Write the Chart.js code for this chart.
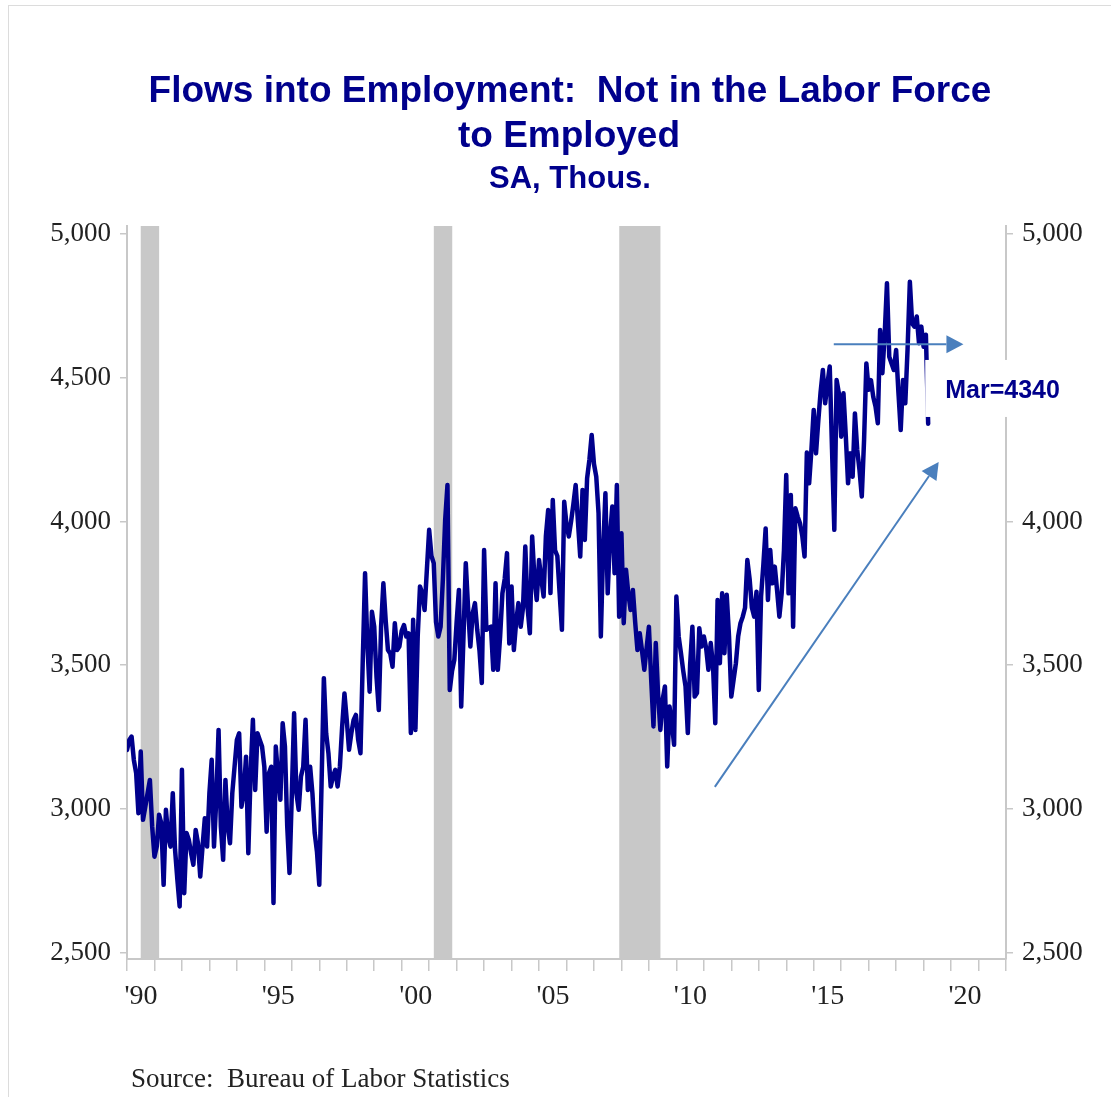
<!DOCTYPE html>
<html>
<head>
<meta charset="utf-8">
<title>Flows into Employment: Not in the Labor Force to Employed</title>
<script src="https://cdn.jsdelivr.net/npm/chart.js"></script>
<style>
  html, body { margin: 0; padding: 0; background: #fff; }
  #wrap { position: relative; width: 1111px; height: 1097px; overflow: hidden; }
  #frame { position: absolute; left: 8px; top: 5px; width: 1200px; height: 1200px; border: 1px solid #dcdcdc; }
  canvas { position: absolute; left: 0; top: 0; }
</style>
</head>
<body>
<div id="wrap"><div id="frame"></div><canvas id="myChart" width="1111" height="1097"></canvas></div>
<script>
// monthly, SA, thousands -- Jan 1990 .. Mar 2019
const firstYear = 1990;
const flows = [
  3205, 3240, 3252, 3170, 3125, 2985, 3200, 2962, 3008, 3055, 3101, 2939,
  2834, 2869, 2980, 2950, 2736, 2997, 2904, 2869, 3055, 2858, 2754, 2661,
  3136, 2707, 2916, 2893, 2846, 2806, 2927, 2881, 2765, 2869, 2968, 2869,
  3055, 3171, 2869, 3032, 3275, 2939, 2823, 3101, 2939, 2881, 3055, 3148,
  3240, 3263, 3008, 3055, 3182, 2846, 3124, 3310, 3066, 3263, 3240, 3217,
  3147, 2921, 3124, 3147, 2673, 3217, 3113, 3032, 3298, 3217, 2939, 2777,
  3050, 3333, 3055, 2997, 3113, 3147, 3310, 3066, 3147, 3055, 2916, 2850,
  2736, 3090, 3455, 3263, 3194, 3078, 3113, 3136, 3078, 3147, 3287, 3402,
  3310, 3206, 3263, 3310, 3327, 3240, 3194, 3518, 3820, 3576, 3408, 3686,
  3634, 3460, 3344, 3634, 3785, 3657, 3553, 3541, 3495, 3646, 3553, 3565,
  3620, 3640, 3600, 3611, 3264, 3658, 3275, 3600, 3774, 3750, 3692, 3832,
  3971, 3880, 3855, 3650, 3600, 3634, 3800, 4006, 4127, 3414, 3480, 3519,
  3650, 3762, 3356, 3600, 3855, 3700, 3565, 3680, 3716, 3623, 3550, 3438,
  3901, 3623, 3630, 3634, 3484, 3785, 3484, 3600, 3750, 3800, 3890, 3576,
  3774, 3553, 3650, 3716, 3634, 3700, 3913, 3700, 3611, 3948, 3800, 3727,
  3866, 3800, 3739, 3950, 4040, 3751, 4075, 3900, 3880, 3750, 3623, 4069,
  3990, 3948, 4000, 4060, 4127, 4000, 3878, 4110, 3936, 4150, 4214, 4301,
  4200, 4156, 4029, 3600, 3900, 4098, 3750, 3950, 4052, 3820, 4127, 3669,
  3959, 3646, 3832, 3750, 3692, 3762, 3650, 3553, 3611, 3550, 3484, 3560,
  3634, 3450, 3287, 3577, 3400, 3275, 3380, 3426, 3148, 3356, 3300, 3223,
  3739, 3600, 3542, 3480, 3426, 3264, 3500, 3634, 3391, 3403, 3629, 3565,
  3600, 3560, 3484, 3577, 3500, 3298, 3727, 3507, 3750, 3542, 3745, 3600,
  3391, 3450, 3507, 3600, 3646, 3669, 3700, 3866, 3800, 3700, 3669, 3756,
  3414, 3739, 3850, 3976, 3727, 3901, 3785, 3843, 3760, 3669, 3750, 3900,
  4162, 3750, 4092, 3634, 4046, 4017, 3994, 3950, 3878, 4240, 4133, 4250,
  4388, 4237, 4350, 4450, 4527, 4411, 4480, 4539, 4250, 3971, 4492, 4446,
  4295, 4446, 4300, 4133, 4237, 4156, 4376, 4250, 4179, 4087, 4284, 4550,
  4458, 4492, 4434, 4400, 4342, 4666, 4516, 4650, 4829, 4573, 4550, 4527,
  4597, 4450, 4318, 4492, 4411, 4600, 4834, 4689, 4678, 4713, 4620, 4678,
  4608, 4650, 4340
];
// recession start/end as decimal years
const recessions = [[1990.5, 1991.17], [2001.17, 2001.84], [2007.92, 2009.42]];
const yTicks = [2500, 3000, 3500, 4000, 4500, 5000];
const xYears = [];
for (let y = 1990; y <= 2022; y++) xYears.push(y);
const lastLabel = 'Mar=4340';
// trend arrows: [x0, y0, x1, y1] in data units
const arrows = [[2015.73, 4617, 2020.45, 4617], [2011.4, 3077, 2019.55, 4207]];

const navy = '#00008c';
const arrowBlue = '#4a7fbd';
const serif = '"Liberation Serif", "Times New Roman", serif';
const sans = '"Liberation Sans", Arial, sans-serif';

function drawArrow(ctx, x0, y0, x1, y1) {
  const a = Math.atan2(y1 - y0, x1 - x0);
  const len = 17, half = 9;
  const bx = x1 - len * Math.cos(a), by = y1 - len * Math.sin(a);
  ctx.beginPath();
  ctx.moveTo(x0, y0);
  ctx.lineTo(bx, by);
  ctx.stroke();
  ctx.beginPath();
  ctx.moveTo(x1, y1);
  ctx.lineTo(bx + half * Math.sin(a), by - half * Math.cos(a));
  ctx.lineTo(bx - half * Math.sin(a), by + half * Math.cos(a));
  ctx.closePath();
  ctx.fill();
}

const decor = {
  id: 'decor',
  beforeDatasetsDraw(chart) {
    const { ctx, chartArea, scales } = chart;
    ctx.save();
    ctx.fillStyle = '#c8c8c8';
    recessions.forEach(([s, e]) => {
      const x0 = scales.x.getPixelForValue(s), x1 = scales.x.getPixelForValue(e);
      ctx.fillRect(x0, chartArea.top, x1 - x0, chartArea.bottom - chartArea.top);
    });
    ctx.restore();
  },
  afterDatasetsDraw(chart) {
    const { ctx, scales } = chart;
    const x = scales.x, y = scales.y;
    ctx.save();
    ctx.strokeStyle = arrowBlue;
    ctx.fillStyle = arrowBlue;
    ctx.lineWidth = 2;
    arrows.forEach(([a, b, c, d]) => {
      drawArrow(ctx, x.getPixelForValue(a), y.getPixelForValue(b), x.getPixelForValue(c), y.getPixelForValue(d));
    });
    ctx.restore();
  },
  afterDraw(chart) {
    const { ctx, scales } = chart;
    ctx.save();
    // label box for latest value, covers the right axis there
    const bx = scales.x.getPixelForValue(2019.06), by = scales.y.getPixelForValue(4562);
    ctx.fillStyle = '#fff';
    ctx.fillRect(bx, by, 172, 57);
    ctx.fillStyle = navy;
    ctx.font = 'bold 25px ' + sans;
    ctx.textAlign = 'left';
    ctx.textBaseline = 'alphabetic';
    ctx.fillText(lastLabel, bx + 20, by + 38);

    ctx.textAlign = 'center';
    ctx.font = 'bold 37px ' + sans;
    ctx.fillText('Flows into Employment:  Not in the Labor Force', 570, 102);
    ctx.fillText('to Employed', 569, 147);
    ctx.font = 'bold 31px ' + sans;
    ctx.fillText('SA, Thous.', 570, 188);
    ctx.fillStyle = '#222';
    ctx.textAlign = 'left';
    ctx.font = '27px ' + serif;
    ctx.fillText('Source:  Bureau of Labor Statistics', 131, 1087);
    ctx.restore();
  }
};

const yAxis = (pos, w) => ({
  type: 'linear',
  position: pos,
  min: 2478,
  max: 5028,
  afterBuildTicks: (s) => { s.ticks = yTicks.map((v) => ({ value: v })); },
  afterFit: (s) => { s.width = w; },
  ticks: {
    color: '#222',
    padding: 9,
    font: { family: serif, size: 27 },
    callback: (v) => v.toLocaleString('en-US')
  },
  grid: { drawOnChartArea: false, drawTicks: true, tickLength: 7, color: '#c8c8c8', lineWidth: 1.5 },
  border: { display: true, color: '#c8c8c8', width: 2 }
});

Chart.defaults.devicePixelRatio = 1;
new Chart(document.getElementById('myChart'), {
  type: 'line',
  data: {
    datasets: [{
      label: 'Not in labor force to employed',
      data: flows.map((v, i) => ({ x: firstYear + i / 12, y: v })),
      borderColor: navy,
      borderWidth: 4.5,
      borderJoinStyle: 'round',
      borderCapStyle: 'round',
      pointRadius: 0,
      tension: 0,
      yAxisID: 'y'
    }]
  },
  options: {
    responsive: false,
    animation: false,
    layout: { padding: { left: 10, right: 10, top: 226, bottom: 78 } },
    plugins: { legend: { display: false }, tooltip: { enabled: false } },
    scales: {
      x: {
        type: 'linear',
        min: 1990,
        max: 2022,
        afterBuildTicks: (s) => { s.ticks = xYears.map((v) => ({ value: v })); },
        afterFit: (s) => { s.height = 60; },
        ticks: {
          autoSkip: false,
          maxRotation: 0,
          labelOffset: 14,
          padding: 9,
          color: '#222',
          font: { family: serif, size: 28 },
          callback: (v) => (v % 5 === 0 ? "'" + String(v).slice(2) : '')
        },
        grid: { drawOnChartArea: false, drawTicks: true, tickLength: 12, color: '#c8c8c8', lineWidth: 1.5 },
        border: { display: true, color: '#c8c8c8', width: 2 }
      },
      y: yAxis('left', 117),
      y2: yAxis('right', 95)
    }
  },
  plugins: [decor]
});
</script>
</body>
</html>
